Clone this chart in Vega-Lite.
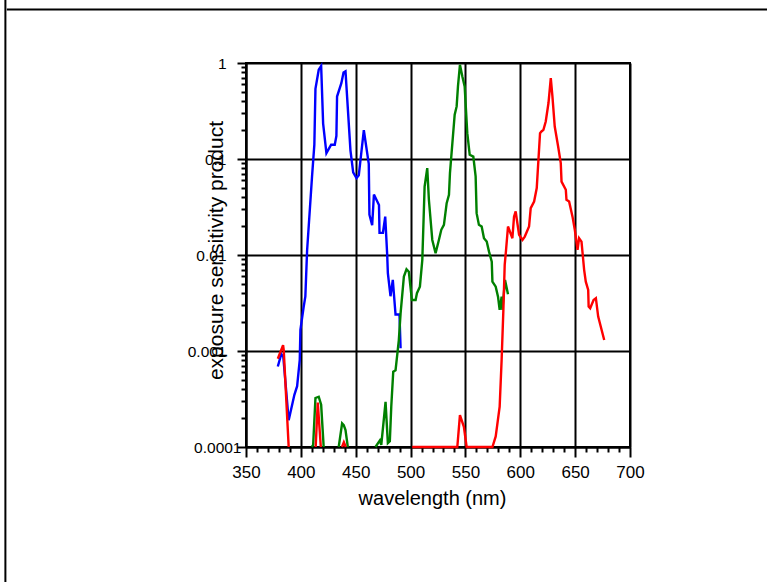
{
  "$schema": "https://vega.github.io/schema/vega-lite/v6.json",
  "width": 384,
  "height": 384,
  "autosize": "none",
  "padding": {"left": 246, "top": 63, "right": 137, "bottom": 135},
  "background": "white",
  "config": {
    "view": {"stroke": "black", "strokeWidth": 2},
    "font": "Liberation Sans"
  },
  "resolve": {"axis": {"x": "independent", "y": "independent"}},
  "datasets": {
    "spectra": [
      {"band": "blue", "seg": "b", "nm": 379.0, "v": 0.00069},
      {"band": "blue", "seg": "b", "nm": 382.2, "v": 0.00093},
      {"band": "blue", "seg": "b", "nm": 384.0, "v": 0.00087},
      {"band": "blue", "seg": "b", "nm": 388.9, "v": 0.00019},
      {"band": "blue", "seg": "b", "nm": 394.1, "v": 0.00035},
      {"band": "blue", "seg": "b", "nm": 396.6, "v": 0.00043},
      {"band": "blue", "seg": "b", "nm": 399.0, "v": 0.00081},
      {"band": "blue", "seg": "b", "nm": 399.6, "v": 0.00166},
      {"band": "blue", "seg": "b", "nm": 402.6, "v": 0.0029},
      {"band": "blue", "seg": "b", "nm": 404.1, "v": 0.0037},
      {"band": "blue", "seg": "b", "nm": 405.7, "v": 0.0112},
      {"band": "blue", "seg": "b", "nm": 410.2, "v": 0.066},
      {"band": "blue", "seg": "b", "nm": 412.3, "v": 0.141},
      {"band": "blue", "seg": "b", "nm": 413.3, "v": 0.537},
      {"band": "blue", "seg": "b", "nm": 416.3, "v": 0.851},
      {"band": "blue", "seg": "b", "nm": 418.5, "v": 0.933},
      {"band": "blue", "seg": "b", "nm": 420.3, "v": 0.234},
      {"band": "blue", "seg": "b", "nm": 423.3, "v": 0.115},
      {"band": "blue", "seg": "b", "nm": 427.6, "v": 0.141},
      {"band": "blue", "seg": "b", "nm": 430.9, "v": 0.141},
      {"band": "blue", "seg": "b", "nm": 432.4, "v": 0.174},
      {"band": "blue", "seg": "b", "nm": 433.0, "v": 0.447},
      {"band": "blue", "seg": "b", "nm": 436.9, "v": 0.617},
      {"band": "blue", "seg": "b", "nm": 438.9, "v": 0.794},
      {"band": "blue", "seg": "b", "nm": 440.7, "v": 0.818},
      {"band": "blue", "seg": "b", "nm": 445.2, "v": 0.123},
      {"band": "blue", "seg": "b", "nm": 447.7, "v": 0.0724},
      {"band": "blue", "seg": "b", "nm": 450.7, "v": 0.0631},
      {"band": "blue", "seg": "b", "nm": 452.8, "v": 0.0676},
      {"band": "blue", "seg": "b", "nm": 457.4, "v": 0.1995},
      {"band": "blue", "seg": "b", "nm": 461.9, "v": 0.0891},
      {"band": "blue", "seg": "b", "nm": 462.5, "v": 0.0263},
      {"band": "blue", "seg": "b", "nm": 465.0, "v": 0.0204},
      {"band": "blue", "seg": "b", "nm": 466.6, "v": 0.0427},
      {"band": "blue", "seg": "b", "nm": 471.2, "v": 0.0331},
      {"band": "blue", "seg": "b", "nm": 471.7, "v": 0.017},
      {"band": "blue", "seg": "b", "nm": 474.8, "v": 0.017},
      {"band": "blue", "seg": "b", "nm": 476.9, "v": 0.0251},
      {"band": "blue", "seg": "b", "nm": 478.7, "v": 0.01},
      {"band": "blue", "seg": "b", "nm": 479.3, "v": 0.00646},
      {"band": "blue", "seg": "b", "nm": 481.7, "v": 0.00372},
      {"band": "blue", "seg": "b", "nm": 483.8, "v": 0.0055},
      {"band": "blue", "seg": "b", "nm": 486.3, "v": 0.0024},
      {"band": "blue", "seg": "b", "nm": 489.9, "v": 0.0024},
      {"band": "blue", "seg": "b", "nm": 490.9, "v": 0.00107},

      {"band": "green", "seg": "g1", "nm": 410.0, "v": 0.0001},
      {"band": "green", "seg": "g1", "nm": 411.2, "v": 0.000105},
      {"band": "green", "seg": "g1", "nm": 413.3, "v": 0.000324},
      {"band": "green", "seg": "g1", "nm": 416.3, "v": 0.000334},
      {"band": "green", "seg": "g1", "nm": 418.5, "v": 0.000275},
      {"band": "green", "seg": "g1", "nm": 420.8, "v": 0.0001},
      {"band": "green", "seg": "g2", "nm": 434.5, "v": 0.0001},
      {"band": "green", "seg": "g2", "nm": 437.6, "v": 0.000176},
      {"band": "green", "seg": "g2", "nm": 439.1, "v": 0.000169},
      {"band": "green", "seg": "g2", "nm": 440.7, "v": 0.00015},
      {"band": "green", "seg": "g2", "nm": 442.8, "v": 0.0001},
      {"band": "green", "seg": "g3", "nm": 468.0, "v": 0.0001},
      {"band": "green", "seg": "g3", "nm": 472.0, "v": 0.000117},
      {"band": "green", "seg": "g3", "nm": 473.3, "v": 0.000105},
      {"band": "green", "seg": "g3", "nm": 477.2, "v": 0.000295},
      {"band": "green", "seg": "g3", "nm": 479.3, "v": 0.00011},
      {"band": "green", "seg": "g3", "nm": 481.1, "v": 0.000115},
      {"band": "green", "seg": "g3", "nm": 482.4, "v": 0.000263},
      {"band": "green", "seg": "g3", "nm": 484.2, "v": 0.00061},
      {"band": "green", "seg": "g3", "nm": 486.3, "v": 0.00063},
      {"band": "green", "seg": "g3", "nm": 489.3, "v": 0.0013},
      {"band": "green", "seg": "g3", "nm": 490.9, "v": 0.00247},
      {"band": "green", "seg": "g3", "nm": 493.9, "v": 0.00596},
      {"band": "green", "seg": "g3", "nm": 496.3, "v": 0.0071},
      {"band": "green", "seg": "g3", "nm": 498.4, "v": 0.0067},
      {"band": "green", "seg": "g3", "nm": 501.2, "v": 0.0034},
      {"band": "green", "seg": "g3", "nm": 504.6, "v": 0.0034},
      {"band": "green", "seg": "g3", "nm": 505.8, "v": 0.004},
      {"band": "green", "seg": "g3", "nm": 508.5, "v": 0.00468},
      {"band": "green", "seg": "g3", "nm": 510.7, "v": 0.0089},
      {"band": "green", "seg": "g3", "nm": 512.8, "v": 0.0516},
      {"band": "green", "seg": "g3", "nm": 515.2, "v": 0.0804},
      {"band": "green", "seg": "g3", "nm": 516.7, "v": 0.0376},
      {"band": "green", "seg": "g3", "nm": 519.8, "v": 0.01435},
      {"band": "green", "seg": "g3", "nm": 522.8, "v": 0.01045},
      {"band": "green", "seg": "g3", "nm": 525.8, "v": 0.01435},
      {"band": "green", "seg": "g3", "nm": 528.0, "v": 0.0183},
      {"band": "green", "seg": "g3", "nm": 530.4, "v": 0.0206},
      {"band": "green", "seg": "g3", "nm": 532.9, "v": 0.0347},
      {"band": "green", "seg": "g3", "nm": 535.0, "v": 0.0424},
      {"band": "green", "seg": "g3", "nm": 535.9, "v": 0.0713},
      {"band": "green", "seg": "g3", "nm": 538.1, "v": 0.1466},
      {"band": "green", "seg": "g3", "nm": 540.2, "v": 0.289},
      {"band": "green", "seg": "g3", "nm": 542.0, "v": 0.353},
      {"band": "green", "seg": "g3", "nm": 543.2, "v": 0.57},
      {"band": "green", "seg": "g3", "nm": 545.0, "v": 0.959},
      {"band": "green", "seg": "g3", "nm": 547.2, "v": 0.724},
      {"band": "green", "seg": "g3", "nm": 549.3, "v": 0.57},
      {"band": "green", "seg": "g3", "nm": 551.7, "v": 0.186},
      {"band": "green", "seg": "g3", "nm": 553.9, "v": 0.1107},
      {"band": "green", "seg": "g3", "nm": 557.2, "v": 0.106},
      {"band": "green", "seg": "g3", "nm": 559.3, "v": 0.0658},
      {"band": "green", "seg": "g3", "nm": 560.2, "v": 0.0273},
      {"band": "green", "seg": "g3", "nm": 562.3, "v": 0.0206},
      {"band": "green", "seg": "g3", "nm": 564.8, "v": 0.0198},
      {"band": "green", "seg": "g3", "nm": 566.9, "v": 0.01496},
      {"band": "green", "seg": "g3", "nm": 569.4, "v": 0.0138},
      {"band": "green", "seg": "g3", "nm": 571.5, "v": 0.01084},
      {"band": "green", "seg": "g3", "nm": 574.0, "v": 0.00853},
      {"band": "green", "seg": "g3", "nm": 574.6, "v": 0.00528},
      {"band": "green", "seg": "g3", "nm": 577.6, "v": 0.00468},
      {"band": "green", "seg": "g3", "nm": 579.7, "v": 0.00368},
      {"band": "green", "seg": "g3", "nm": 581.2, "v": 0.00268},
      {"band": "green", "seg": "g3", "nm": 583.0, "v": 0.00368},
      {"band": "green", "seg": "g3", "nm": 583.7, "v": 0.00268},
      {"band": "green", "seg": "g3", "nm": 586.1, "v": 0.0055},
      {"band": "green", "seg": "g3", "nm": 588.8, "v": 0.00389},

      {"band": "red", "seg": "r1", "nm": 379.0, "v": 0.00083},
      {"band": "red", "seg": "r1", "nm": 383.8, "v": 0.00115},
      {"band": "red", "seg": "r1", "nm": 384.4, "v": 0.00102},
      {"band": "red", "seg": "r1", "nm": 388.9, "v": 0.0001},
      {"band": "red", "seg": "r2", "nm": 413.5, "v": 0.0001},
      {"band": "red", "seg": "r2", "nm": 415.4, "v": 0.00029},
      {"band": "red", "seg": "r2", "nm": 418.2, "v": 0.0001},
      {"band": "red", "seg": "r3", "nm": 437.5, "v": 0.0001},
      {"band": "red", "seg": "r3", "nm": 439.2, "v": 0.000112},
      {"band": "red", "seg": "r3", "nm": 441.0, "v": 0.0001},
      {"band": "red", "seg": "r4", "nm": 501.5, "v": 0.0001},
      {"band": "red", "seg": "r4", "nm": 542.6, "v": 0.0001},
      {"band": "red", "seg": "r4", "nm": 545.0, "v": 0.000215},
      {"band": "red", "seg": "r4", "nm": 548.6, "v": 0.000162},
      {"band": "red", "seg": "r4", "nm": 551.1, "v": 0.0001},
      {"band": "red", "seg": "r4", "nm": 574.6, "v": 0.0001},
      {"band": "red", "seg": "r4", "nm": 577.6, "v": 0.000129},
      {"band": "red", "seg": "r4", "nm": 581.2, "v": 0.000263},
      {"band": "red", "seg": "r4", "nm": 583.0, "v": 0.00081},
      {"band": "red", "seg": "r4", "nm": 584.6, "v": 0.0027},
      {"band": "red", "seg": "r4", "nm": 585.8, "v": 0.0079},
      {"band": "red", "seg": "r4", "nm": 587.0, "v": 0.0112},
      {"band": "red", "seg": "r4", "nm": 588.8, "v": 0.0198},
      {"band": "red", "seg": "r4", "nm": 592.8, "v": 0.01496},
      {"band": "red", "seg": "r4", "nm": 594.3, "v": 0.0251},
      {"band": "red", "seg": "r4", "nm": 595.8, "v": 0.0284},
      {"band": "red", "seg": "r4", "nm": 598.9, "v": 0.0162},
      {"band": "red", "seg": "r4", "nm": 602.0, "v": 0.01435},
      {"band": "red", "seg": "r4", "nm": 604.1, "v": 0.01556},
      {"band": "red", "seg": "r4", "nm": 608.0, "v": 0.0198},
      {"band": "red", "seg": "r4", "nm": 609.5, "v": 0.0308},
      {"band": "red", "seg": "r4", "nm": 612.6, "v": 0.0361},
      {"band": "red", "seg": "r4", "nm": 615.0, "v": 0.0498},
      {"band": "red", "seg": "r4", "nm": 618.0, "v": 0.186},
      {"band": "red", "seg": "r4", "nm": 619.3, "v": 0.1936},
      {"band": "red", "seg": "r4", "nm": 621.1, "v": 0.201},
      {"band": "red", "seg": "r4", "nm": 623.2, "v": 0.246},
      {"band": "red", "seg": "r4", "nm": 625.7, "v": 0.383},
      {"band": "red", "seg": "r4", "nm": 627.8, "v": 0.698},
      {"band": "red", "seg": "r4", "nm": 629.3, "v": 0.449},
      {"band": "red", "seg": "r4", "nm": 631.4, "v": 0.218},
      {"band": "red", "seg": "r4", "nm": 634.5, "v": 0.135},
      {"band": "red", "seg": "r4", "nm": 636.9, "v": 0.0906},
      {"band": "red", "seg": "r4", "nm": 637.6, "v": 0.0582},
      {"band": "red", "seg": "r4", "nm": 641.5, "v": 0.0478},
      {"band": "red", "seg": "r4", "nm": 642.1, "v": 0.0376},
      {"band": "red", "seg": "r4", "nm": 644.5, "v": 0.0361},
      {"band": "red", "seg": "r4", "nm": 647.6, "v": 0.0251},
      {"band": "red", "seg": "r4", "nm": 649.7, "v": 0.0183},
      {"band": "red", "seg": "r4", "nm": 652.2, "v": 0.0113},
      {"band": "red", "seg": "r4", "nm": 653.6, "v": 0.01496},
      {"band": "red", "seg": "r4", "nm": 655.8, "v": 0.0138},
      {"band": "red", "seg": "r4", "nm": 658.2, "v": 0.007},
      {"band": "red", "seg": "r4", "nm": 659.7, "v": 0.00528},
      {"band": "red", "seg": "r4", "nm": 661.9, "v": 0.00433},
      {"band": "red", "seg": "r4", "nm": 662.3, "v": 0.0029},
      {"band": "red", "seg": "r4", "nm": 663.7, "v": 0.00279},
      {"band": "red", "seg": "r4", "nm": 666.8, "v": 0.0034},
      {"band": "red", "seg": "r4", "nm": 668.9, "v": 0.00355},
      {"band": "red", "seg": "r4", "nm": 671.0, "v": 0.00228},
      {"band": "red", "seg": "r4", "nm": 676.5, "v": 0.0013}
    ]
  },
  "layer": [
    {
      "data": {"name": "spectra"},
      "mark": {"type": "line", "strokeWidth": 2.4, "strokeJoin": "miter", "clip": false},
      "encoding": {
        "x": {
          "field": "nm",
          "type": "quantitative",
          "scale": {"domain": [350, 700], "nice": false, "zero": false},
          "axis": {
            "orient": "bottom",
            "title": "wavelength (nm)",
            "titleFont": "Liberation Sans",
            "titleFontSize": 20,
            "titleFontWeight": "normal",
            "titleColor": "black",
            "titleX": 186,
            "titleY": 51,
            "titleBaseline": "middle",
            "titleAlign": "center",
            "values": [350, 400, 450, 500, 550, 600, 650, 700],
            "labelFont": "Liberation Sans",
            "labelFontSize": 17,
            "labelColor": "black",
            "labelPadding": 17,
            "labelFlush": false,
            "labelOverlap": false,
            "domainColor": "black",
            "domainWidth": 2,
            "ticks": false,
            "grid": true,
            "gridColor": "black",
            "gridWidth": 2
          }
        },
        "y": {
          "field": "v",
          "type": "quantitative",
          "scale": {"type": "log", "domain": [0.0001, 1], "nice": false},
          "axis": {
            "orient": "left",
            "title": "exposure sensitivity product",
            "titleFont": "Liberation Sans",
            "titleFontSize": 21,
            "titleFontWeight": "normal",
            "titleColor": "black",
            "titleX": -30,
            "titleY": 187,
            "titleBaseline": "middle",
            "titleAlign": "center",
            "values": [0.0001, 0.001, 0.01, 0.1, 1],
            "format": "~g",
            "labelFont": "Liberation Sans",
            "labelFontSize": 15.5,
            "labelColor": "black",
            "labelPadding": {"condition": {"test": "datum.value < 0.0005", "value": 5}, "value": 20},
            "labelFlush": false,
            "labelOverlap": false,
            "domainColor": "black",
            "domainWidth": 2,
            "ticks": false,
            "grid": true,
            "gridColor": "black",
            "gridWidth": 2
          }
        },
        "color": {
          "field": "band",
          "type": "nominal",
          "scale": {"domain": ["blue", "green", "red"], "range": ["#0000ff", "#008000", "#ff0000"]},
          "legend": null
        },
        "detail": {"field": "seg", "type": "nominal"}
      }
    },
    {
      "data": {"values": [{}]},
      "mark": {"type": "rule", "color": "black", "strokeWidth": 2, "clip": false},
      "encoding": {
        "x": {
          "datum": 130.7,
          "type": "quantitative",
          "axis": {
            "orient": "bottom",
            "title": null,
            "values": [360,370,380,390,410,420,430,440,460,470,480,490,510,520,530,540,560,570,580,590,610,620,630,640,660,670,680,690],
            "labels": false,
            "domain": false,
            "grid": false,
            "ticks": true,
            "tickColor": "black",
            "tickWidth": 2,
            "tickSize": 5
          }
        },
        "y": {
          "datum": 4.6,
          "type": "quantitative",
          "axis": {
            "orient": "left",
            "title": null,
            "values": [0.0002,0.0003,0.0004,0.0005,0.0006,0.0007,0.0008,0.0009,0.002,0.003,0.004,0.005,0.006,0.007,0.008,0.009,0.02,0.03,0.04,0.05,0.06,0.07,0.08,0.09,0.2,0.3,0.4,0.5,0.6,0.7,0.8,0.9],
            "labels": false,
            "domain": false,
            "grid": false,
            "ticks": true,
            "tickColor": "black",
            "tickWidth": 2,
            "tickSize": 5
          }
        },
        "y2": {"datum": 0.0000035}
      }
    },
    {
      "data": {"values": [{}]},
      "mark": {"type": "rule", "color": "black", "strokeWidth": 2, "clip": false},
      "encoding": {
        "x": {
          "datum": 132.0,
          "type": "quantitative",
          "axis": {
            "orient": "bottom",
            "title": null,
            "values": [350, 400, 450, 500, 550, 600, 650, 700],
            "labels": false,
            "domain": false,
            "grid": false,
            "ticks": true,
            "tickColor": "black",
            "tickWidth": 2,
            "tickSize": 10
          }
        },
        "x2": {"datum": 830},
        "y": {
          "datum": 3.6,
          "type": "quantitative",
          "axis": {
            "orient": "left",
            "title": null,
            "values": [0.0001, 0.001, 0.01, 0.1, 1],
            "labels": false,
            "domain": false,
            "grid": false,
            "ticks": true,
            "tickColor": "black",
            "tickWidth": 2,
            "tickSize": 9
          }
        }
      }
    }
  ]
}
